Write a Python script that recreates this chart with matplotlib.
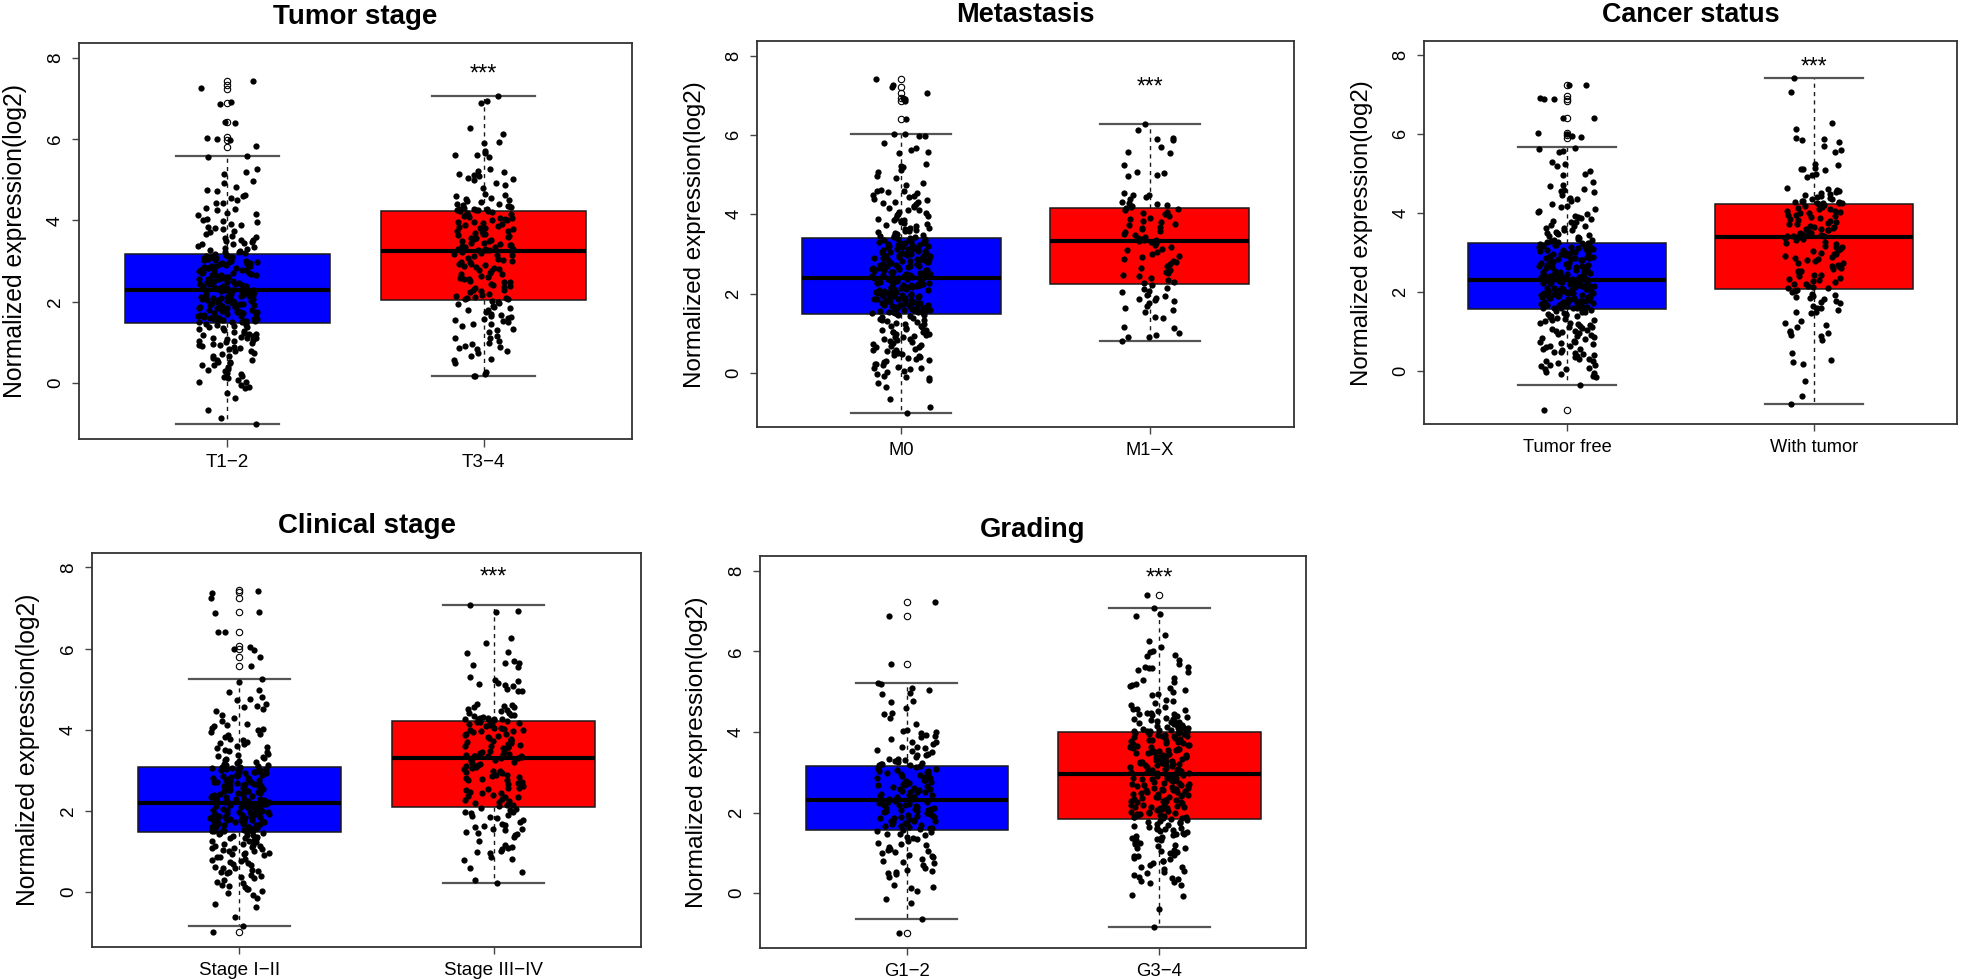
import numpy as np
import matplotlib
matplotlib.use("Agg")
import matplotlib.pyplot as plt
from matplotlib.transforms import offset_copy

plt.rcParams['font.family'] = ['Liberation Sans', 'DejaVu Sans']

# ---------------- data ----------------
titles = ["Tumor stage", "Metastasis", "Cancer status", "Clinical stage", "Grading"]
group_labels = [["T1\u22122", "T3\u22124"], ["M0", "M1\u2212X"], ["Tumor free", "With tumor"],
                ["Stage I\u2212II", "Stage III\u2212IV"], ["G1\u22122", "G3\u22124"]]
y_ticks = [0, 2, 4, 6, 8]
y_label = "Normalized expression(log2)"
star_text = "***"
star_y = [7.77, 7.37, 7.88, 7.93, 7.99]

# box statistics: whisker low, Q1, median, Q3, whisker high
box_t12 = [-1.00, 1.48, 2.28, 3.18, 5.58]
box_t34 = [0.18, 2.05, 3.26, 4.22, 7.07]
box_m0 = [-1.00, 1.50, 2.39, 3.40, 6.03]
box_m1x = [0.81, 2.25, 3.33, 4.16, 6.27]
box_tfree = [-0.37, 1.57, 2.31, 3.25, 5.67]
box_wtum = [-0.85, 2.08, 3.38, 4.22, 7.41]
box_st12 = [-0.85, 1.47, 2.20, 3.07, 5.26]
box_st34 = [0.22, 2.10, 3.31, 4.22, 7.08]
box_g12 = [-0.63, 1.58, 2.31, 3.16, 5.23]
box_g34 = [-0.84, 1.85, 2.95, 4.00, 7.07]

fliers_t12 = [7.42, 7.33, 7.23, 6.88, 6.41, 6.04, 5.97, 5.80]
fliers_t34 = []
fliers_m0 = [7.41, 7.22, 7.07, 6.93, 6.86, 6.40]
fliers_m1x = []
fliers_tfree = [7.24, 6.97, 6.90, 6.84, 6.40, 6.03, 5.98, 5.91, -1.00]
fliers_wtum = []
fliers_st12 = [7.45, 7.39, 7.24, 6.89, 6.41, 6.07, 5.98, 5.80, 5.57, -1.00]
fliers_st34 = []
fliers_g12 = [7.24, 6.88, 5.69, -0.98]
fliers_g34 = [7.40]

# individual samples
pts_t12 = [
    7.42, 7.25, 6.90, 6.87, 6.41, 6.39, 6.03, 6.01, 5.98, 5.82, 5.58, 5.55, 5.26, 5.19, 5.15, 4.98, 4.93, 4.81,
    4.73, 4.59, 4.54, 4.51, 4.42, 4.31, 4.25, 4.19, 4.13, 4.04, 3.99, 3.95, 3.88, 3.81, 3.78, 3.71, 3.63, 3.60,
    3.52, 3.49, 3.45, 3.41, 3.35, 3.33, 3.28, 3.23, 3.20,
    3.17, 3.13, 3.12, 3.08, 3.07, 3.04, 3.01, 3.00, 2.96, 2.95, 2.91, 2.89, 2.88, 2.84, 2.83, 2.80, 2.78, 2.77,
    2.74, 2.71, 2.70, 2.67, 2.66, 2.63, 2.61, 2.60, 2.56, 2.55, 2.53, 2.50, 2.49, 2.47, 2.44, 2.43, 2.41, 2.40,
    2.37, 2.36, 2.35, 2.33, 2.32, 2.31, 2.30, 2.29, 2.28,
    2.26, 2.25, 2.22, 2.21, 2.18, 2.17, 2.16, 2.13, 2.11, 2.10, 2.08, 2.06, 2.04, 2.02, 2.01, 1.99, 1.96, 1.95,
    1.93, 1.92, 1.89, 1.88, 1.86, 1.84, 1.82, 1.81, 1.79, 1.77, 1.75, 1.73, 1.72, 1.70, 1.68, 1.66, 1.65, 1.63,
    1.61, 1.59, 1.57, 1.56, 1.54, 1.52, 1.51, 1.50, 1.48,
    1.46, 1.42, 1.39, 1.37, 1.31, 1.29, 1.24, 1.22, 1.18, 1.13, 1.11, 1.06, 1.05, 1.02, 0.99, 0.95, 0.91, 0.87,
    0.83, 0.79, 0.74, 0.68, 0.66, 0.58, 0.56, 0.49, 0.46, 0.41, 0.33, 0.29, 0.22, 0.18, 0.12, 0.07, 0.02, -0.04,
    -0.08, -0.12, -0.25, -0.36, -0.65, -0.85, -1.00, 0.52, 1.12,
    3.22, 3.26, 3.30, 3.37, 3.42, 3.47, 3.53, 3.58, 3.66, 3.74, 3.83, 3.91, 4.02, 4.16, 4.28, 4.44, 4.62, 4.75,
    3.16, 3.11, 3.05, 2.99, 2.93, 2.87, 2.82, 2.76, 2.69, 2.65, 2.59, 2.52, 2.46, 2.39, 2.34, 2.29, 3.09, 2.97,
    2.85, 2.72, 2.57, 2.44, 2.33, 3.02, 2.79, 2.62, 2.48, 2.38, 2.31, 2.92,
    2.27, 2.23, 2.19, 2.14, 2.09, 2.05, 2.00, 1.97, 1.91, 1.87, 1.83, 1.78, 1.74, 1.69, 1.64, 1.60, 1.55, 1.50,
    2.24, 2.12, 2.03, 1.94, 1.85, 1.76, 1.67, 1.58, 1.52, 2.15, 1.98, 1.80,
    1.44, 1.40, 1.34, 1.27, 1.20, 1.15, 1.08, 1.03, 0.97, 0.88, 0.80, 0.71, 0.61, 0.53, 0.44, 0.35, 0.25, 0.15,
    0.04, 1.36, 1.10, 0.93]
pts_t34 = [
    7.07, 6.93, 6.88, 6.27, 6.12, 5.92, 5.90, 5.70, 5.66, 5.62, 5.57, 5.26, 5.22, 5.18, 5.11, 5.08, 5.05, 5.01,
    4.93, 4.88, 4.62, 4.59, 4.56, 4.50, 4.47, 4.41, 4.38, 4.35, 4.31, 4.29, 4.27, 4.26, 4.25, 4.24, 4.23,
    4.20, 4.16, 4.14, 4.09, 4.07, 4.03, 4.01, 3.97, 3.94, 3.92, 3.87, 3.85, 3.81, 3.79, 3.75, 3.73, 3.70, 3.66,
    3.64, 3.60, 3.58, 3.54, 3.52, 3.49, 3.45, 3.44, 3.40, 3.39, 3.36, 3.34, 3.31, 3.30, 3.29, 3.28, 3.27,
    3.24, 3.20, 3.18, 3.14, 3.12, 3.07, 3.04, 3.00, 2.97, 2.93, 2.90, 2.86, 2.82, 2.80, 2.75, 2.71, 2.68, 2.63,
    2.61, 2.56, 2.52, 2.49, 2.44, 2.42, 2.37, 2.33, 2.30, 2.26, 2.23, 2.19, 2.15, 2.13, 2.10, 2.07, 2.06,
    2.03, 1.98, 1.94, 1.88, 1.85, 1.80, 1.76, 1.70, 1.66, 1.63, 1.60, 1.56, 1.53, 1.50, 1.46, 1.40, 1.33, 1.25,
    1.16, 1.10, 1.04, 1.00, 0.96, 0.92, 0.87, 0.84, 0.80, 0.75, 0.66, 0.57, 0.50, 0.27, 0.23, 0.19, 0.18,
    4.25, 4.28, 4.33, 4.40, 4.52, 4.64, 4.80, 5.00, 5.15, 5.60, 4.36, 4.45,
    4.18, 4.12, 4.05, 3.97, 3.90, 3.82, 3.74, 3.66, 3.58, 3.50, 3.42, 3.35, 3.28, 4.00, 3.62,
    3.22, 3.15, 3.06, 2.98, 2.88, 2.78, 2.68, 2.58, 2.48, 2.38, 2.28, 2.18, 2.09, 2.92, 2.55,
    2.00, 1.90, 1.80, 1.68, 1.58, 1.45, 1.30, 1.12, 0.90, 0.60]
pts_m0 = [
    7.42, 7.25, 7.22, 7.07, 6.93, 6.90, 6.86, 6.40, 6.03, 6.02, 5.98, 5.97, 5.80, 5.66, 5.61, 5.57, 5.55, 5.28,
    5.23, 5.20, 5.12, 5.07, 4.97, 4.91, 4.78, 4.74, 4.62, 4.59, 4.55, 4.49, 4.43, 4.39, 4.32, 4.28, 4.21, 4.18,
    4.11, 4.07, 4.00, 3.98, 3.92, 3.89, 3.83, 3.81, 3.75, 3.73, 3.67, 3.65, 3.60, 3.57, 3.52, 3.50, 3.46, 3.43, 3.41,
    3.39, 3.36, 3.35, 3.32, 3.31, 3.28, 3.27, 3.25, 3.23, 3.22, 3.19, 3.18, 3.16, 3.14, 3.12, 3.11, 3.08, 3.07,
    3.05, 3.03, 3.01, 3.00, 2.98, 2.96, 2.94, 2.93, 2.90, 2.89, 2.87, 2.85, 2.83, 2.82, 2.79, 2.78, 2.76, 2.74,
    2.72, 2.71, 2.68, 2.67, 2.65, 2.63, 2.61, 2.60, 2.57, 2.56, 2.54, 2.52, 2.50, 2.49, 2.46, 2.45, 2.43, 2.42, 2.40,
    2.38, 2.36, 2.34, 2.33, 2.31, 2.29, 2.28, 2.26, 2.25, 2.23, 2.21, 2.20, 2.18, 2.16, 2.15, 2.13, 2.12, 2.10,
    2.08, 2.07, 2.05, 2.03, 2.02, 2.00, 1.99, 1.97, 1.95, 1.94, 1.92, 1.90, 1.89, 1.87, 1.86, 1.84, 1.82, 1.81,
    1.79, 1.78, 1.76, 1.74, 1.73, 1.71, 1.70, 1.68, 1.66, 1.65, 1.63, 1.62, 1.60, 1.58, 1.57, 1.55, 1.54, 1.52, 1.51,
    1.48, 1.46, 1.41, 1.39, 1.35, 1.33, 1.29, 1.26, 1.24, 1.20, 1.18, 1.14, 1.12, 1.09, 1.05, 1.03, 1.00, 0.96,
    0.93, 0.92, 0.87, 0.85, 0.81, 0.79, 0.74, 0.71, 0.67, 0.65, 0.59, 0.57, 0.52, 0.49, 0.43, 0.41, 0.35, 0.33,
    0.27, 0.24, 0.20, 0.16, 0.12, 0.10, 0.05, 0.03, -0.02, -0.07, -0.10, -0.12, -0.16, -0.25, -0.35, -0.65, -0.85,
    -1.00, 0.58,
    3.42, 3.45, 3.48, 3.55, 3.62, 3.70, 3.78, 3.86, 3.95, 4.04, 4.15, 4.25, 4.36, 4.47, 4.56, 4.60, 3.58, 3.85,
    4.10, 4.30,
    3.38, 3.33, 3.29, 3.24, 3.20, 3.15, 3.10, 3.06, 3.02, 2.97, 2.92, 2.88, 2.84, 2.80, 2.75, 2.70, 2.66, 2.62,
    2.58, 2.53, 2.48, 2.44, 2.41, 3.30, 3.13, 2.99, 2.86, 2.73, 2.59, 2.47, 3.21, 2.95, 2.69, 2.51, 2.43,
    2.37, 2.32, 2.27, 2.22, 2.17, 2.12, 2.07, 2.02, 1.97, 1.92, 1.87, 1.83, 1.78, 1.73, 1.68, 1.64, 1.59, 1.55,
    1.52, 2.35, 2.19, 2.04, 1.90, 1.76, 1.62, 2.28, 2.10, 1.95, 1.81, 1.66, 2.24, 1.99, 1.72, 1.56, 2.14,
    1.47, 1.43, 1.37, 1.31, 1.25, 1.16, 1.10, 1.04, 0.98, 0.90, 0.83, 0.76, 0.69, 0.61, 0.54, 0.46, 0.38, 0.30,
    0.22, 0.14]
pts_m1x = [
    6.27, 6.12, 5.92, 5.90, 5.88, 5.70, 5.57, 5.55, 5.25, 5.08, 5.05, 5.00, 4.97, 4.55, 4.50, 4.48, 4.45, 4.40,
    4.30, 4.28, 4.26, 4.24, 4.21, 4.19, 4.17,
    4.14, 4.10, 4.07, 4.04, 4.00, 3.96, 3.92, 3.88, 3.84, 3.80, 3.77, 3.73, 3.69, 3.65, 3.62, 3.58, 3.55, 3.51,
    3.47, 3.44, 3.41, 3.38, 3.36, 3.35, 3.34,
    3.31, 3.27, 3.22, 3.18, 3.14, 3.10, 3.05, 3.01, 2.96, 2.92, 2.88, 2.83, 2.79, 2.74, 2.70, 2.66, 2.61, 2.56,
    2.52, 2.48, 2.44, 2.40, 2.35, 2.30, 2.27,
    2.22, 2.15, 2.12, 2.08, 2.05, 1.98, 1.95, 1.90, 1.88, 1.85, 1.82, 1.78, 1.70, 1.65, 1.58, 1.55, 1.42, 1.40,
    1.17, 1.15, 1.02, 0.95, 0.92, 0.90, 0.81]
pts_tfree = [
    7.24, 7.24, 6.92, 6.90, 6.88, 6.40, 6.40, 6.02, 6.00, 5.96, 5.92, 5.65, 5.62, 5.56, 5.55, 5.28, 5.24, 5.18,
    5.06, 5.00, 4.95, 4.78, 4.72, 4.60, 4.57, 4.52, 4.46, 4.38, 4.30, 4.22, 4.16, 4.09, 4.03, 3.97, 3.93, 3.87,
    3.80, 3.76, 3.70, 3.66, 3.62, 3.57, 3.52, 3.48, 3.44, 3.40, 3.36, 3.32, 3.29, 3.26,
    3.24, 3.22, 3.19, 3.18, 3.15, 3.14, 3.12, 3.09, 3.08, 3.07, 3.04, 3.03, 3.01, 2.98, 2.97, 2.95, 2.92, 2.91,
    2.89, 2.86, 2.86, 2.84, 2.81, 2.80, 2.78, 2.75, 2.74, 2.72, 2.69, 2.68, 2.66, 2.63, 2.62, 2.60, 2.57, 2.56,
    2.54, 2.51, 2.50, 2.48, 2.45, 2.44, 2.42, 2.41, 2.38, 2.37, 2.35, 2.34, 2.33, 2.32,
    2.30, 2.29, 2.27, 2.25, 2.24, 2.23, 2.20, 2.20, 2.18, 2.16, 2.15, 2.14, 2.11, 2.11, 2.09, 2.07, 2.06, 2.05,
    2.02, 2.02, 2.00, 1.98, 1.97, 1.96, 1.93, 1.93, 1.91, 1.89, 1.88, 1.87, 1.84, 1.84, 1.82, 1.80, 1.79, 1.78,
    1.75, 1.75, 1.73, 1.71, 1.70, 1.69, 1.66, 1.66, 1.64, 1.62, 1.61, 1.60, 1.59, 1.58,
    1.55, 1.52, 1.50, 1.47, 1.45, 1.42, 1.40, 1.36, 1.32, 1.29, 1.25, 1.22, 1.18, 1.15, 1.12, 1.09, 1.06, 1.03,
    1.00, 0.96, 0.92, 0.88, 0.84, 0.80, 0.76, 0.72, 0.68, 0.64, 0.60, 0.56, 0.52, 0.48, 0.44, 0.40, 0.36, 0.31,
    0.26, 0.21, 0.16, 0.12, 0.08, 0.04, -0.02, -0.05, -0.09, -0.12, -0.15, -0.37, -1.00, 0.30,
    3.27, 3.31, 3.35, 3.42, 3.50, 3.58, 3.68, 3.78, 3.90, 4.05, 4.18, 4.35, 4.55, 4.68, 3.46, 3.63, 3.84,
    3.23, 3.17, 3.11, 3.05, 2.99, 2.94, 2.88, 2.83, 2.77, 2.71, 2.65, 2.59, 2.53, 2.47, 2.41, 2.36, 3.20, 3.02,
    2.85, 2.68, 2.50, 2.38, 3.13, 2.91, 2.73, 2.56, 2.44, 2.97, 2.62, 2.33,
    2.28, 2.22, 2.17, 2.12, 2.07, 2.02, 1.97, 1.92, 1.87, 1.82, 1.77, 1.72, 1.67, 1.62, 1.59, 2.25, 2.10, 1.95,
    1.80, 1.65, 2.19, 2.04, 1.89, 1.74, 1.60, 2.14, 1.85, 1.70, 2.00, 1.78,
    1.54, 1.49, 1.43, 1.38, 1.30, 1.20, 1.10, 1.02, 0.94, 0.86, 0.74, 0.62, 0.55, 0.47, 0.38, 0.26, 0.14, 0.05,
    1.33, 1.13, 0.98, 0.70, 0.42]
pts_wtum = [
    7.41, 7.07, 6.27, 6.12, 5.90, 5.88, 5.80, 5.70, 5.60, 5.55, 5.25, 5.22, 5.15, 5.12, 5.10, 5.00, 4.95, 4.62,
    4.58, 4.55, 4.50, 4.47, 4.42, 4.38, 4.35, 4.31, 4.29, 4.27, 4.26, 4.25, 4.24, 4.23,
    4.20, 4.16, 4.13, 4.10, 4.06, 4.03, 3.99, 3.96, 3.92, 3.89, 3.85, 3.82, 3.78, 3.75, 3.71, 3.68, 3.65, 3.62,
    3.59, 3.56, 3.53, 3.50, 3.48, 3.46, 3.44, 3.42, 3.41, 3.40, 3.39,
    3.36, 3.31, 3.27, 3.22, 3.17, 3.13, 3.08, 3.04, 2.99, 2.95, 2.90, 2.86, 2.82, 2.78, 2.73, 2.69, 2.65, 2.61,
    2.57, 2.52, 2.48, 2.44, 2.40, 2.36, 2.32, 2.28, 2.24, 2.20, 2.16, 2.12, 2.10,
    2.05, 2.00, 1.95, 1.90, 1.86, 1.82, 1.78, 1.74, 1.65, 1.58, 1.55, 1.50, 1.46, 1.25, 1.15, 1.12, 1.00, 0.95,
    0.92, 0.88, 0.78, 0.45, 0.28, 0.22, 0.18, -0.26, -0.63, -0.85,
    4.26, 4.30, 4.36, 4.45, 4.52, 4.60, 4.90, 5.12, 5.85, 4.40,
    4.18, 4.11, 4.04, 3.96, 3.88, 3.80, 3.72, 3.64, 3.56, 3.48, 3.41, 4.00, 3.60,
    3.34, 3.25, 3.15, 3.05, 2.95, 2.84, 2.74, 2.63, 2.52, 2.42, 2.30, 2.20, 2.11, 2.88,
    2.02, 1.93, 1.84, 1.72, 1.60, 1.48, 1.20, 0.98]
pts_st12 = [
    7.42, 7.38, 7.24, 6.90, 6.88, 6.41, 6.40, 6.03, 5.99, 5.97, 5.80, 5.57, 5.26, 5.18, 4.98, 4.92, 4.80, 4.76,
    4.62, 4.55, 4.50, 4.36, 4.21, 4.15, 4.08, 4.02, 3.98, 3.90, 3.82, 3.77, 3.70, 3.64, 3.60, 3.55, 3.50, 3.45,
    3.40, 3.36, 3.32, 3.28, 3.24, 3.20, 3.16, 3.13, 3.10, 3.08,
    3.06, 3.04, 3.01, 3.00, 2.97, 2.96, 2.93, 2.92, 2.89, 2.88, 2.85, 2.84, 2.81, 2.80, 2.77, 2.76, 2.73, 2.72,
    2.69, 2.68, 2.65, 2.64, 2.61, 2.60, 2.57, 2.56, 2.53, 2.52, 2.49, 2.48, 2.45, 2.44, 2.41, 2.40, 2.37, 2.36,
    2.34, 2.32, 2.30, 2.28, 2.27, 2.25, 2.24, 2.22, 2.21,
    2.19, 2.17, 2.16, 2.14, 2.12, 2.11, 2.09, 2.08, 2.06, 2.04, 2.03, 2.01, 2.00, 1.98, 1.96, 1.95, 1.93, 1.92,
    1.90, 1.88, 1.87, 1.85, 1.84, 1.82, 1.80, 1.79, 1.77, 1.76, 1.74, 1.72, 1.71, 1.69, 1.68, 1.66, 1.64, 1.63,
    1.61, 1.60, 1.58, 1.56, 1.55, 1.53, 1.52, 1.50, 1.49, 1.48,
    1.45, 1.42, 1.40, 1.37, 1.34, 1.31, 1.28, 1.25, 1.22, 1.18, 1.15, 1.12, 1.09, 1.06, 1.03, 1.00, 0.97, 0.94,
    0.90, 0.86, 0.82, 0.78, 0.74, 0.70, 0.66, 0.62, 0.58, 0.54, 0.50, 0.46, 0.42, 0.38, 0.33, 0.28, 0.23, 0.18,
    0.13, 0.08, 0.03, -0.04, -0.08, -0.14, -0.30, -0.38, -0.63, -0.85, -1.00,
    3.09, 3.12, 3.18, 3.23, 3.30, 3.38, 3.47, 3.56, 3.66, 3.75, 3.86, 3.95, 4.05, 4.12, 4.28, 4.45, 4.58, 4.74,
    3.05, 3.00, 2.95, 2.90, 2.85, 2.80, 2.75, 2.70, 2.65, 2.60, 2.55, 2.50, 2.45, 2.40, 2.35, 2.30, 2.25, 2.22,
    3.02, 2.87, 2.72, 2.58, 2.43, 2.28, 2.97, 2.78, 2.62, 2.47, 2.33, 2.67,
    2.18, 2.13, 2.08, 2.03, 1.98, 1.93, 1.88, 1.83, 1.78, 1.73, 1.68, 1.63, 1.58, 1.53, 1.49, 2.15, 2.01, 1.86,
    1.71, 1.56, 2.10, 1.95, 1.80, 1.65, 1.51, 2.05, 1.90, 1.75, 1.60, 1.97,
    1.44, 1.39, 1.33, 1.26, 1.19, 1.13, 1.07, 1.01, 0.93, 0.85, 0.76, 0.68, 0.59, 0.48, 0.36, 0.24, 0.15, 0.06,
    1.36, 1.10, 0.95, 0.52]
pts_st34 = [
    7.08, 6.93, 6.90, 6.27, 6.13, 5.92, 5.90, 5.70, 5.65, 5.60, 5.55, 5.30, 5.22, 5.20, 5.15, 5.10, 5.08, 5.00,
    4.95, 4.62, 4.58, 4.55, 4.50, 4.45, 4.40, 4.37, 4.34, 4.31, 4.29, 4.27, 4.26, 4.25, 4.24, 4.23, 4.22,
    4.20, 4.17, 4.14, 4.11, 4.08, 4.05, 4.02, 3.99, 3.96, 3.93, 3.90, 3.87, 3.84, 3.81, 3.78, 3.75, 3.72, 3.69,
    3.66, 3.63, 3.60, 3.57, 3.54, 3.51, 3.48, 3.45, 3.42, 3.40, 3.38, 3.36, 3.35, 3.34, 3.33, 3.32, 3.31,
    3.29, 3.26, 3.23, 3.20, 3.16, 3.13, 3.10, 3.06, 3.03, 2.99, 2.96, 2.92, 2.89, 2.85, 2.82, 2.78, 2.75, 2.71,
    2.68, 2.64, 2.61, 2.57, 2.54, 2.50, 2.47, 2.43, 2.40, 2.36, 2.33, 2.29, 2.26, 2.22, 2.19, 2.16, 2.13, 2.11,
    2.07, 2.02, 1.98, 1.95, 1.90, 1.86, 1.82, 1.78, 1.72, 1.68, 1.63, 1.60, 1.56, 1.52, 1.48, 1.44, 1.40, 1.35,
    1.25, 1.15, 1.10, 1.05, 1.00, 0.95, 0.85, 0.80, 0.78, 0.58, 0.50, 0.28, 0.22,
    4.25, 4.29, 4.35, 4.42, 4.55, 4.60, 4.95, 5.12, 5.65, 4.48,
    4.19, 4.12, 4.04, 3.96, 3.88, 3.80, 3.72, 3.64, 3.56, 3.48, 3.40, 3.34, 4.00, 3.60,
    3.27, 3.18, 3.08, 2.98, 2.87, 2.76, 2.66, 2.55, 2.44, 2.34, 2.24, 2.14, 2.80,
    2.05, 1.96, 1.85, 1.65, 1.55, 1.42, 1.08, 0.98]
pts_g12 = [
    7.24, 6.88, 5.69, 5.23, 5.20, 5.10, 5.05, 4.98, 4.95, 4.78, 4.74, 4.60, 4.45, 4.35, 4.20, 4.05, 4.00, 3.98,
    3.93, 3.90, 3.82, 3.76, 3.70, 3.64, 3.60, 3.55, 3.50, 3.46, 3.42, 3.38, 3.34, 3.30, 3.27, 3.24, 3.21, 3.19, 3.17,
    3.15, 3.13, 3.10, 3.08, 3.06, 3.03, 3.01, 2.99, 2.96, 2.94, 2.92, 2.89, 2.87, 2.85, 2.82, 2.80, 2.78, 2.75,
    2.73, 2.71, 2.68, 2.66, 2.64, 2.61, 2.59, 2.57, 2.54, 2.52, 2.50, 2.47, 2.45, 2.43, 2.40, 2.38, 2.36, 2.34, 2.32,
    2.30, 2.28, 2.26, 2.24, 2.22, 2.20, 2.18, 2.16, 2.14, 2.12, 2.10, 2.08, 2.06, 2.04, 2.02, 2.00, 1.98, 1.96,
    1.94, 1.92, 1.90, 1.88, 1.86, 1.84, 1.82, 1.80, 1.78, 1.76, 1.74, 1.72, 1.70, 1.68, 1.66, 1.64, 1.62, 1.60, 1.59,
    1.56, 1.52, 1.48, 1.44, 1.40, 1.35, 1.30, 1.25, 1.20, 1.15, 1.10, 1.05, 1.00, 0.96, 0.90, 0.85, 0.80, 0.75,
    0.70, 0.62, 0.58, 0.52, 0.48, 0.40, 0.20, 0.15, 0.12, 0.05, -0.15, -0.25, -0.63, -0.98,
    3.20, 3.26, 3.33, 3.42, 3.52, 3.62, 3.75, 3.88, 4.02, 4.48,
    3.12, 3.04, 2.95, 2.86, 2.77, 2.68, 2.59, 2.50, 2.41, 2.34,
    2.27, 2.19, 2.11, 2.03, 1.95, 1.87, 1.79, 1.71, 1.63, 2.07,
    1.54, 1.46, 1.37, 1.22, 1.08, 1.02, 0.92, 0.78, 0.55, 0.50]
pts_g34 = [
    7.40, 7.07, 6.93, 6.88, 6.40, 6.27, 6.12, 6.02, 5.98, 5.92, 5.90, 5.80, 5.68, 5.62, 5.60, 5.58, 5.55, 5.28,
    5.25, 5.20, 5.15, 5.10, 5.00, 4.95, 4.80, 4.72, 4.62, 4.58, 4.55, 4.52, 4.48, 4.45, 4.42, 4.38, 4.35, 4.32,
    4.30, 4.28, 4.25, 4.22, 4.20, 4.18, 4.15, 4.13, 4.11, 4.09, 4.07, 4.05, 4.04, 4.03, 4.02, 4.01,
    3.99, 3.97, 3.95, 3.93, 3.91, 3.89, 3.87, 3.85, 3.83, 3.81, 3.79, 3.77, 3.75, 3.73, 3.71, 3.69, 3.67, 3.65,
    3.63, 3.61, 3.59, 3.57, 3.55, 3.53, 3.51, 3.49, 3.47, 3.45, 3.43, 3.41, 3.39, 3.37, 3.35, 3.33, 3.31, 3.29,
    3.27, 3.25, 3.23, 3.21, 3.19, 3.17, 3.15, 3.13, 3.11, 3.09, 3.07, 3.05, 3.03, 3.01, 2.99, 2.97,
    2.93, 2.91, 2.89, 2.87, 2.85, 2.83, 2.80, 2.78, 2.76, 2.74, 2.72, 2.70, 2.68, 2.66, 2.64, 2.61, 2.59, 2.57,
    2.55, 2.53, 2.51, 2.49, 2.47, 2.45, 2.42, 2.40, 2.38, 2.36, 2.34, 2.32, 2.30, 2.28, 2.26, 2.23, 2.21, 2.19,
    2.17, 2.15, 2.13, 2.11, 2.09, 2.07, 2.04, 2.02, 2.00, 1.98, 1.96, 1.94, 1.92, 1.90, 1.88, 1.86,
    1.83, 1.80, 1.77, 1.74, 1.71, 1.68, 1.65, 1.62, 1.59, 1.56, 1.53, 1.50, 1.47, 1.44, 1.41, 1.38, 1.35, 1.32,
    1.28, 1.24, 1.20, 1.16, 1.12, 1.08, 1.04, 1.00, 0.96, 0.92, 0.88, 0.84, 0.80, 0.75, 0.70, 0.65, 0.60, 0.55,
    0.50, 0.45, 0.40, 0.35, 0.30, 0.28, 0.25, 0.20, -0.05, -0.08, -0.38, -0.84,
    4.03, 4.07, 4.12, 4.18, 4.24, 4.32, 4.40, 4.48, 4.57, 4.66, 4.78, 4.92, 5.05, 5.18, 5.35, 5.50, 5.62, 4.10,
    4.28, 4.44,
    3.98, 3.92, 3.86, 3.80, 3.74, 3.68, 3.62, 3.56, 3.50, 3.44, 3.38, 3.32, 3.26, 3.20, 3.14, 3.08, 3.02, 2.98,
    3.95, 3.77, 3.59, 3.41, 3.23, 3.05, 3.89, 3.53, 3.17,
    2.92, 2.86, 2.80, 2.74, 2.68, 2.62, 2.56, 2.50, 2.44, 2.38, 2.32, 2.26, 2.20, 2.14, 2.08, 2.02, 1.96, 1.90,
    1.87, 2.83, 2.65, 2.47, 2.29, 2.11, 1.93, 2.59,
    1.82, 1.76, 1.70, 1.63, 1.55, 1.48, 1.40, 1.31, 1.22, 1.13, 1.02, 0.92, 0.80, 0.66, 0.52, 0.38, 1.60]

panel_boxes = [(box_t12, box_t34), (box_m0, box_m1x), (box_tfree, box_wtum),
               (box_st12, box_st34), (box_g12, box_g34)]
panel_fliers = [(fliers_t12, fliers_t34), (fliers_m0, fliers_m1x), (fliers_tfree, fliers_wtum),
                (fliers_st12, fliers_st34), (fliers_g12, fliers_g34)]
panel_points = [(pts_t12, pts_t34), (pts_m0, pts_m1x), (pts_tfree, pts_wtum),
                (pts_st12, pts_st34), (pts_g12, pts_g34)]

# ---------------- layout (pixels: left, top, right, bottom of each plot frame) ----------------
W, H = 1961, 980
frames = [(79, 43, 632, 438.6), (757, 41.3, 1294, 427.2), (1424, 40.9, 1957, 424.5),
          (92, 552.8, 641, 947), (760, 556.4, 1306, 948)]
box_colors = ["#0000FF", "#FF0000"]

fig = plt.figure(figsize=(W / 100, H / 100), dpi=100)


def jitter(n, k, amount=0.117):
    i = np.arange(n) + 1.0
    u = np.sin(i * 12.9898 + k * 78.233) * 43758.5453
    u = u - np.floor(u)
    return (u - 0.5) * 2 * amount


for p in range(5):
    l, t, r, b = frames[p]
    s = (b - t) / 395.6
    ax = fig.add_axes([l / W, 1 - b / H, (r - l) / W, (b - t) / H])
    stats = []
    for g in range(2):
        wl, q1, med, q3, wh = panel_boxes[p][g]
        stats.append(dict(whislo=wl, q1=q1, med=med, q3=q3, whishi=wh,
                          fliers=panel_fliers[p][g], label=group_labels[p][g]))
    bp = ax.bxp(stats, positions=[1, 2], widths=0.8, capwidths=0.4, patch_artist=True,
                showfliers=True,
                boxprops=dict(edgecolor="#1a1a1a", linewidth=1.1),
                whiskerprops=dict(color="#1a1a1a", linewidth=1.0, linestyle=(0, (3, 3))),
                capprops=dict(color="#555555", linewidth=1.6),
                medianprops=dict(color="black", linewidth=3.0),
                flierprops=dict(marker="o", markerfacecolor="none", markeredgecolor="black",
                                markersize=4.6, markeredgewidth=0.8))
    for g, patch in enumerate(bp["boxes"]):
        patch.set_facecolor(box_colors[g])
    for g in range(2):
        vals = np.asarray(panel_points[p][g])
        xs = (g + 1) + jitter(len(vals), p * 2 + g)
        ax.plot(xs, vals, "o", color="black", markersize=4.5, markeredgewidth=0, zorder=4)

    ax.set_xlim(0.42, 2.58)
    ax.set_ylim(-1.36, 8.36)
    ax.set_xticks([1, 2])
    ax.set_xticklabels(group_labels[p], fontsize=13.6 * s)
    ax.set_yticks(y_ticks)
    ax.set_yticklabels([str(v) for v in y_ticks], fontsize=13.6 * s, rotation=90, va="center")
    ax.tick_params(axis="both", length=7.5 * s * 0.72, width=1.0, color="#444444", pad=5.5 * s)
    for sp in ax.spines.values():
        sp.set_color("#333333")
        sp.set_linewidth(1.3)

    # significance stars
    tr = offset_copy(ax.transData, fig=fig, y=-0.58 * 17 * s * 100 / 72, units="dots")
    ax.text(2, star_y[p], star_text, ha="center", va="baseline", fontsize=17 * s, transform=tr)

    # title and y label
    fig.text(((l + r) / 2) / W, 1 - (t - 19.5 * s) / H, titles[p], ha="center", va="baseline",
             fontsize=20 * s, fontweight="bold")
    fig.text((l - 64 * s) / W, 1 - ((t + b) / 2) / H, y_label, rotation=90, ha="center",
             va="center", fontsize=17.8 * s)

fig.savefig("out.png", dpi=100)
